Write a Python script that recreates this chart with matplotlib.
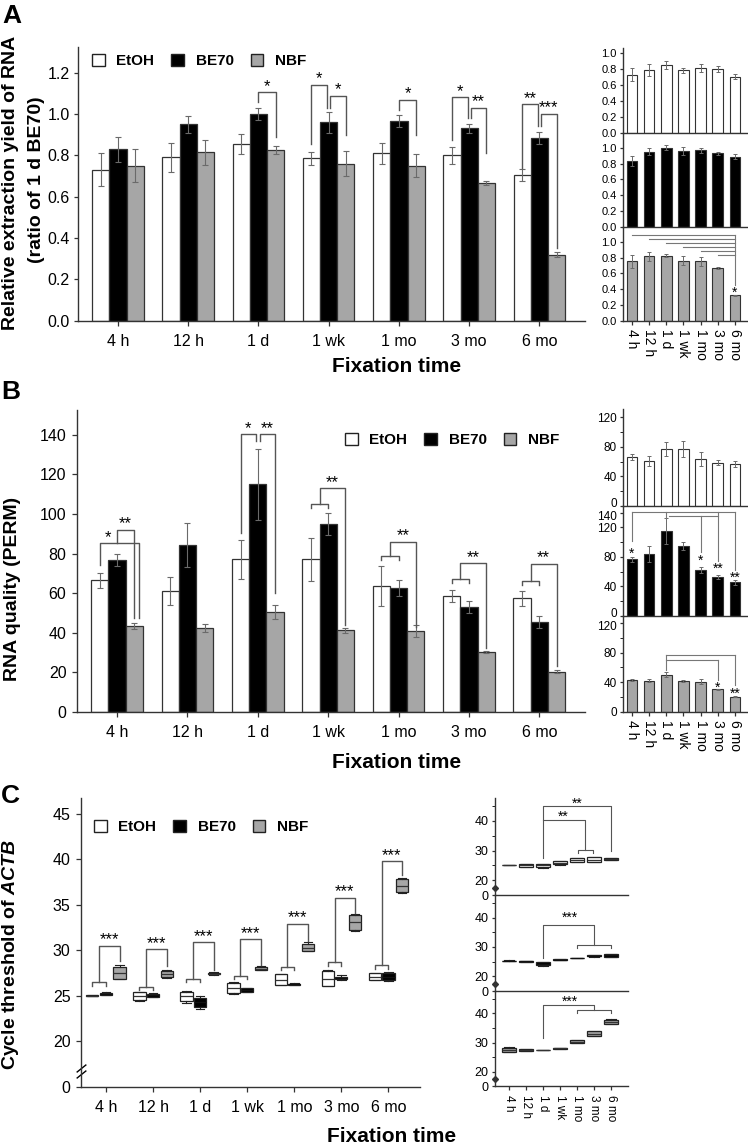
import matplotlib
matplotlib.use('Agg')
import matplotlib.pyplot as plt
import matplotlib.patches as mpatches
import matplotlib.transforms as mtransforms
import numpy as np

plt.rcParams['font.family'] = ['Liberation Sans', 'DejaVu Sans']
plt.rcParams['mathtext.fontset'] = 'custom'
plt.rcParams['mathtext.it'] = 'Liberation Sans:italic:bold'
plt.rcParams['mathtext.rm'] = 'Liberation Sans:bold'

# ---- data ----
times = ['4 h', '12 h', '1 d', '1 wk', '1 mo', '3 mo', '6 mo']
fixatives = ['EtOH', 'BE70', 'NBF']

# A: relative extraction yield (ratio of 1 d BE70)
yield_etoh = [0.73, 0.79, 0.855, 0.785, 0.81, 0.80, 0.705]
yield_etoh_err = [0.08, 0.07, 0.05, 0.03, 0.05, 0.04, 0.03]
yield_be70 = [0.83, 0.95, 1.0, 0.96, 0.965, 0.93, 0.885]
yield_be70_err = [0.06, 0.04, 0.03, 0.05, 0.03, 0.02, 0.03]
yield_nbf = [0.75, 0.815, 0.825, 0.76, 0.75, 0.665, 0.32]
yield_nbf_err = [0.08, 0.06, 0.02, 0.06, 0.055, 0.01, 0.01]

# B: RNA quality (PERM)
perm_etoh = [66.5, 61, 77, 77, 63.5, 58.5, 57.3]
perm_etoh_err = [3.7, 7, 9.7, 11, 10, 3.2, 4]
perm_be70 = [76.8, 84.3, 115, 95, 62.6, 53, 45.5]
perm_be70_err = [3, 11, 18, 5.5, 4, 3, 3]
perm_nbf = [43.3, 42.3, 50.4, 41.2, 40.7, 30.2, 20.3]
perm_nbf_err = [1.5, 2, 3.5, 1.3, 3, 0.5, 0.6]

# C: cycle threshold of ACTB (box stats)
ct_etoh_lo = [24.95, 24.4, 24.2, 25.25, 26.15, 26.05, 26.7]
ct_etoh_q1 = [24.97, 24.5, 24.4, 25.3, 26.2, 26.1, 26.75]
ct_etoh_med = [25.0, 25.0, 25.0, 25.9, 26.75, 26.9, 27.1]
ct_etoh_q3 = [25.05, 25.4, 25.4, 26.4, 27.4, 27.75, 27.5]
ct_etoh_hi = [25.07, 25.45, 25.55, 26.5, 27.45, 27.8, 27.55]

ct_be70_lo = [25.05, 24.85, 23.6, 25.4, 26.15, 26.7, 26.6]
ct_be70_q1 = [25.1, 24.9, 23.8, 25.45, 26.2, 26.8, 26.7]
ct_be70_med = [25.2, 25.05, 24.3, 25.65, 26.28, 26.95, 27.1]
ct_be70_q3 = [25.35, 25.25, 24.8, 25.85, 26.35, 27.1, 27.5]
ct_be70_hi = [25.4, 25.3, 25.0, 25.9, 26.4, 27.25, 27.6]

ct_nbf_lo = [26.8, 27.0, 27.3, 27.8, 29.9, 32.15, 36.35]
ct_nbf_q1 = [26.9, 27.05, 27.35, 27.85, 29.95, 32.25, 36.45]
ct_nbf_med = [27.5, 27.4, 27.45, 28.0, 30.3, 33.1, 37.1]
ct_nbf_q3 = [28.2, 27.75, 27.55, 28.15, 30.75, 33.85, 37.8]
ct_nbf_hi = [28.4, 27.85, 27.6, 28.25, 30.9, 33.95, 38.0]

# significance annotations
W_BAR = 0.245
sig_a = [(2.0, 2 + W_BAR, 1.105, 1.06, 0.89, '*', None),
         (3 - W_BAR, 2.98, 1.14, 0.855, 1.03, '*', None),
         (3.02, 3 + W_BAR, 1.087, 1.03, 0.90, '*', None),
         (4.0, 4 + W_BAR, 1.068, 1.02, 0.90, '*', None),
         (5 - W_BAR, 4.98, 1.08, 0.874, 0.98, '*', None),
         (5.02, 5 + W_BAR, 1.03, 0.98, 0.81, '**', None),
         (6 - W_BAR, 5.98, 1.047, 0.74, 0.94, '**', None),
         (6.02, 6 + W_BAR, 1.0, 0.94, 0.35, '***', None)]
sig_b = [(-W_BAR, W_BAR + 0.07, 85.2, 74, 47.4, '*', -0.13),
         (0.0, W_BAR, 92, 85.2, 47.4, '**', None),
         (2 - W_BAR, 1.97, 140.4, 90.6, 137, '*', None),
         (2.03, 2 + W_BAR, 140.4, 137, 60, '**', None)]
sig_b_group = [(3, 105, 113, 44), (4, 78.6, 86, 43), (5, 67, 75, 32), (6, 66, 74.7, 23)]
sig_c_group = [(0, 26.5, 30.5, 28.8), (1, 26.0, 30.1, 28.3), (2, 26.9, 30.9, 27.8),
               (3, 27.2, 31.2, 28.4), (4, 28.2, 32.9, 31.0), (5, 28.7, 35.8, 34.1),
               (6, 28.4, 39.8, 38.3)]

FILL = {'EtOH': 'white', 'BE70': 'black', 'NBF': '#a6a6a6'}
EDGE = '#333333'
LINE = '#555555'

W, H = 748, 1145
fig = plt.figure(figsize=(W / 100, H / 100), dpi=100)


def px_rect(x0, y0, x1, y1):
    return [x0 / W, 1 - y1 / H, (x1 - x0) / W, (y1 - y0) / H]


def style(ax):
    for s in ['top', 'right']:
        ax.spines[s].set_visible(False)
    for s in ['left', 'bottom']:
        ax.spines[s].set_color(EDGE)
        ax.spines[s].set_linewidth(1)
    ax.tick_params(colors=EDGE, labelcolor='black', direction='out', width=0.9)
    ax.set_facecolor('none')


def star(ax, x, y, label, fs=12, dy=0):
    ax.annotate(label, (x, y), xytext=(0, dy - 0.58 * fs), textcoords='offset points',
                ha='center', va='baseline', fontsize=fs, annotation_clip=False)


def bracket(ax, x1, x2, ytop, y1, y2, label, xs=None):
    ax.plot([x1, x1, x2, x2], [y1, ytop, ytop, y2], color=LINE, lw=1)
    star(ax, (x1 + x2) / 2 if xs is None else xs, ytop, label, dy=8)


def group_bracket(ax, xa, xb, xn, ys, yt, yn, drop, label):
    xm = (xa + xb) / 2
    ax.plot([xa, xa, xb, xb], [ys - drop, ys, ys, ys - drop], color=LINE, lw=1)
    ax.plot([xm, xm, xn, xn], [ys, yt, yt, yn], color=LINE, lw=1)
    star(ax, (xm + xn) / 2, yt, label, dy=8)


def legend(ax, fx, fy):
    handles = [mpatches.Patch(facecolor=FILL[f], edgecolor='#222222', linewidth=1) for f in fixatives]
    ax.legend(handles, fixatives, loc='center left', bbox_to_anchor=(fx / W, 1 - fy / H),
              bbox_transform=fig.transFigure, ncol=3, frameon=False, borderpad=0,
              borderaxespad=0, handlelength=0.85, handleheight=0.85, handletextpad=0.75,
              columnspacing=1.1, prop={'weight': 'bold', 'size': 11})


def shift_label(lbl, dy_px):
    off = mtransforms.ScaledTranslation(0, dy_px / 100, fig.dpi_scale_trans)
    lbl.set_transform(lbl.get_transform() + off)


def main_bars(ax, series, errors):
    x = np.arange(len(times))
    for k, (f, vals, err) in enumerate(zip(fixatives, series, errors)):
        ax.bar(x + (k - 1) * W_BAR, vals, W_BAR, color=FILL[f], edgecolor=EDGE, linewidth=0.9,
               yerr=err, error_kw=dict(ecolor='#6a6a6a', elinewidth=0.8, capsize=2, capthick=0.8))
    ax.set_xlim(-0.57, 6.65)
    ax.set_xticks(x, times)
    ax.tick_params(axis='x', length=3.6, pad=6, labelsize=11.5)
    ax.tick_params(axis='y', length=3, pad=3, labelsize=11.5)


def small_bars(rect, vals, err, f, ylim, majors, minors, labels, show_x):
    ax = fig.add_axes(rect)
    x = np.arange(len(times))
    ax.bar(x, vals, 0.62, color=FILL[f], edgecolor=EDGE, linewidth=0.8, yerr=err,
           error_kw=dict(ecolor='#6a6a6a', elinewidth=0.7, capsize=1.5, capthick=0.7))
    style(ax)
    ax.set_xlim(-0.52, 6.7)
    ax.set_ylim(*ylim)
    ax.set_yticks(majors, labels)
    ax.set_yticks(minors, minor=True)
    ax.tick_params(axis='y', which='both', length=2.5, pad=2, labelsize=8)
    if show_x:
        ax.set_xticks(x, times, rotation=-90)
        ax.tick_params(axis='x', length=3, pad=3, labelsize=10)
    else:
        ax.set_xticks([])
    return ax


def box_stats(lo, q1, med, q3, hi):
    return [dict(whislo=a, q1=b, med=c, q3=d, whishi=e, fliers=[]) for a, b, c, d, e in zip(lo, q1, med, q3, hi)]


def draw_boxes(ax, stats, pos, width, f):
    medc = '#333333' if f != 'BE70' else '#111111'
    ax.bxp(stats, positions=pos, widths=width, patch_artist=True, showfliers=False,
           manage_ticks=False, capwidths=width * 0.7,
           boxprops=dict(facecolor=FILL[f], edgecolor='#222222', linewidth=0.9),
           medianprops=dict(color=medc, linewidth=0.9),
           whiskerprops=dict(color='#222222', linewidth=0.8),
           capprops=dict(color='#222222', linewidth=0.8))


# ================= Panel A =================
axA = fig.add_axes(px_rect(78, 47, 585, 320.7))
style(axA)
main_bars(axA, [yield_etoh, yield_be70, yield_nbf], [yield_etoh_err, yield_be70_err, yield_nbf_err])
axA.set_ylim(0, 1.324)
ticks = np.round(np.arange(0, 1.21, 0.2), 1)
axA.set_yticks(ticks, ['{:.1f}'.format(t) for t in ticks])
for b in sig_a:
    bracket(axA, *b)
legend(axA, 92, 61)

a_small = [(yield_etoh, yield_etoh_err, 'EtOH', (48, 132.7), 1.067),
           (yield_be70, yield_be70_err, 'BE70', (132.7, 226.7), 1.19),
           (yield_nbf, yield_nbf_err, 'NBF', (226.7, 320.7), 1.19)]
for i, (v, e, f, (y0, y1), top) in enumerate(a_small):
    t = np.round(np.arange(0, 1.01, 0.2), 1)
    ax = small_bars(px_rect(623, y0, 747, y1), v, e, f, (0, top), t, [],
                    ['{:.1f}'.format(k) for k in t], i == 2)
    if f == 'NBF':
        for j in range(6):
            yl = 1.085 - 0.05 * j
            ax.plot([j, 6], [yl, yl], color='#777777', lw=0.8)
        ax.plot([6, 6], [1.085, 0.45], color='#777777', lw=0.8)
        star(ax, 6, 0.40, '*', fs=10)

# ================= Panel B =================
axB = fig.add_axes(px_rect(77, 410, 585, 711.7))
style(axB)
main_bars(axB, [perm_etoh, perm_be70, perm_nbf], [perm_etoh_err, perm_be70_err, perm_nbf_err])
axB.set_ylim(0, 152.6)
axB.set_yticks(np.arange(0, 141, 20))
axB.tick_params(axis='y', length=3.6, pad=4)
for b in sig_b:
    bracket(axB, *b)
for i, ys, yt, yn in sig_b_group:
    group_bracket(axB, i - W_BAR, i, i + W_BAR, ys, yt, yn, 1.8, '**')
legend(axB, 345, 440)

b_small = [(perm_etoh, perm_etoh_err, 'EtOH', (409.3, 506), 130.8, [0, 40, 80, 120]),
           (perm_be70, perm_be70_err, 'BE70', (506, 616), 149, [0, 40, 80, 120, 140]),
           (perm_nbf, perm_nbf_err, 'NBF', (616, 711.7), 129.8, [0, 40, 80, 120])]
for i, (v, e, f, (y0, y1), top, t) in enumerate(b_small):
    ax = small_bars(px_rect(623, y0, 747, y1), v, e, f, (0, top), t, [20, 60, 100],
                    [str(k) for k in t], i == 2)
    ax.tick_params(axis='y', labelsize=8.5)
    lbls = ax.get_yticklabels()
    if i < 2:
        shift_label(lbls[0], 3.5)
    if i > 0:
        shift_label(lbls[-1], -2.5)
    if f == 'BE70':
        for xs, ys in [([0, 6], [141.5, 141.5]), ([0, 0], [141.5, 101.7]), ([2, 2], [133, 141.5]),
                       ([2.15, 5], [136, 136]), ([4, 4], [136, 86.8]), ([5, 5], [141.5, 74.6]),
                       ([6, 6], [141.5, 62])]:
            ax.plot(xs, ys, color='#777777', lw=0.8)
        for xs, ys, lab in [(0, 89.6, '*'), (4, 80.1, '*'), (5, 69, '**'), (6, 57, '**')]:
            star(ax, xs, ys, lab, fs=10)
    if f == 'NBF':
        for xs, ys in [([2, 6], [77, 77]), ([2, 2], [57, 77]), ([2, 5], [70, 70]),
                       ([5, 5], [70, 43]), ([6, 6], [77, 36])]:
            ax.plot(xs, ys, color='#777777', lw=0.8)
        for xs, ys, lab in [(5, 38.5, '*'), (6, 29.4, '**')]:
            star(ax, xs, ys, lab, fs=10)

# ================= Panel C =================
ct_stats = {'EtOH': box_stats(ct_etoh_lo, ct_etoh_q1, ct_etoh_med, ct_etoh_q3, ct_etoh_hi),
            'BE70': box_stats(ct_be70_lo, ct_be70_q1, ct_be70_med, ct_be70_q3, ct_be70_hi),
            'NBF': box_stats(ct_nbf_lo, ct_nbf_q1, ct_nbf_med, ct_nbf_q3, ct_nbf_hi)}
C_OFF = 0.29
axC = fig.add_axes(px_rect(81, 798, 420, 1086.7))
style(axC)
xc = np.arange(len(times))
for k, f in enumerate(fixatives):
    draw_boxes(axC, ct_stats[f], xc + (k - 1) * C_OFF, 0.26, f)
axC.set_xlim(-0.53, 6.67)
axC.set_ylim(15, 46.76)
axC.set_xticks(xc, times)
axC.set_yticks([15, 20, 25, 30, 35, 40, 45], ['0', '20', '25', '30', '35', '40', '45'])
axC.tick_params(axis='x', length=3.6, pad=6, labelsize=11.5)
axC.tick_params(axis='y', length=3.6, pad=4, labelsize=11.5)
for i, ys, yt, yn in sig_c_group:
    group_bracket(axC, i - C_OFF, i, i + C_OFF, ys, yt, yn, 0.4, '***')
legend(axC, 94, 827)
trC = mtransforms.blended_transform_factory(axC.transAxes, axC.transData)
axC.plot([0, 0], [16.4, 17.1], transform=trC, marker=[(-1, -0.8), (1, 0.8)], markersize=7,
         linestyle='none', color='k', mec='k', mew=1, clip_on=False)

c_small = [('EtOH', (798, 895)), ('BE70', (895, 991)), ('NBF', (991, 1086.3))]
for i, (f, (y0, y1)) in enumerate(c_small):
    ax = fig.add_axes(px_rect(495, y0, 628, y1))
    style(ax)
    draw_boxes(ax, ct_stats[f], xc, 0.85, f)
    ax.set_xlim(-0.82, 7.0)
    ax.set_ylim(15, 47.7)
    ax.set_yticks([15, 20, 30, 40], ['0', '20', '30', '40'])
    ax.set_yticks([25, 35, 45], minor=True)
    ax.tick_params(axis='y', which='both', length=2.5, pad=2, labelsize=9)
    if i == 2:
        ax.set_xticks(xc, times, rotation=-90)
        ax.tick_params(axis='x', length=3, pad=3, labelsize=8.5)
    else:
        ax.set_xticks([])
    tr = mtransforms.blended_transform_factory(ax.transAxes, ax.transData)
    ax.plot([0], [17.4], transform=tr, marker='D', markersize=3, color='#333333', clip_on=False)
    if f == 'EtOH':
        ax.plot([2, 2, 6, 6], [27.5, 45.1, 45.1, 29.8], color=LINE, lw=0.8)
        ax.plot([2, 4.5, 4.5], [40.3, 40.3, 30.2], color=LINE, lw=0.8)
        ax.plot([4.05, 4.05, 4.97, 4.97], [29.0, 30.2, 30.2, 29.0], color=LINE, lw=0.8)
        star(ax, 4.0, 47.1, '**', fs=10)
        star(ax, 3.2, 42.6, '**', fs=10)
    elif f == 'BE70':
        ax.plot([2, 2, 5, 5], [26.2, 37.5, 37.5, 30.7], color=LINE, lw=0.8)
        ax.plot([4, 4, 6, 6], [29.6, 30.7, 30.7, 29.6], color=LINE, lw=0.8)
        star(ax, 3.6, 41.25, '***', fs=10)
    else:
        ax.plot([2, 2, 5, 5], [31.5, 42.8, 42.8, 41.1], color=LINE, lw=0.8)
        ax.plot([4, 4, 6, 6], [40.0, 41.1, 41.1, 40.0], color=LINE, lw=0.8)
        star(ax, 3.6, 45.4, '***', fs=10)

# ================= labels =================
def fxy(px, py):
    return px / W, 1 - py / H


for lab, (px, py) in [('A', (12, 16)), ('B', (11, 392)), ('C', (10, 796))]:
    fig.text(*fxy(px, py), lab, fontsize=19, fontweight='bold', ha='center', va='center')

fig.text(*fxy(11, 183), 'Relative extraction yield of RNA', rotation=90, fontsize=14,
         fontweight='bold', ha='center', va='center')
fig.text(*fxy(37, 180), '(ratio of 1 d BE70)', rotation=90, fontsize=14,
         fontweight='bold', ha='center', va='center')
fig.text(*fxy(13, 589), 'RNA quality (PERM)', rotation=90, fontsize=14,
         fontweight='bold', ha='center', va='center')
fig.text(*fxy(11, 955), r'Cycle threshold of $\mathit{ACTB}$', rotation=90, fontsize=14,
         fontweight='bold', ha='center', va='center')
for px, py in [(397, 366), (397, 762), (392, 1136)]:
    fig.text(*fxy(px, py), 'Fixation time', fontsize=15, fontweight='bold', ha='center', va='center')

fig.savefig('out.png', dpi=100, facecolor='white')
